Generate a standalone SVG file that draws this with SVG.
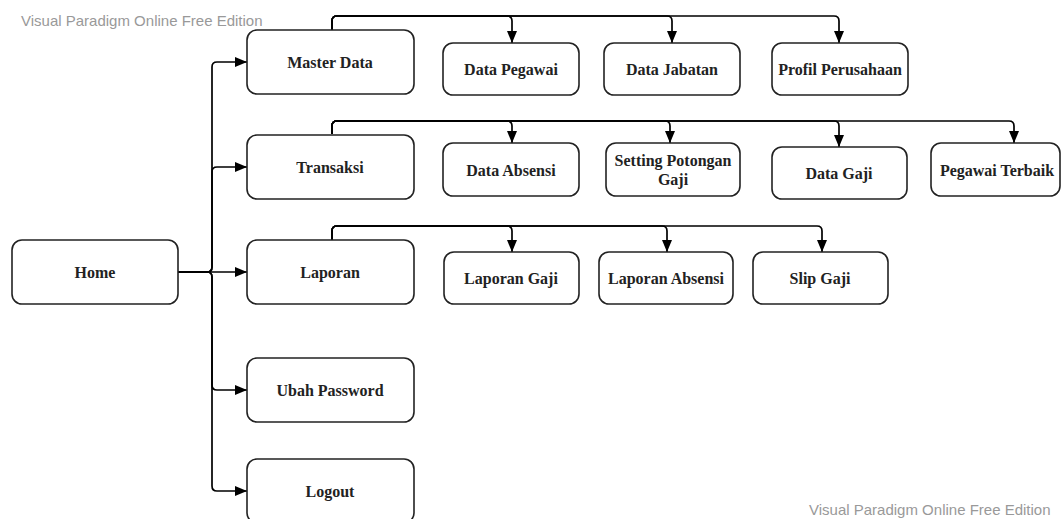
<svg xmlns="http://www.w3.org/2000/svg" width="1062" height="519" viewBox="0 0 1062 519">
<style>
.box{fill:#fff;stroke:#222;stroke-width:1.6}
.lbl{font-family:"Liberation Serif","Times New Roman",serif;font-weight:bold;font-size:16px;fill:#222;text-anchor:middle;dominant-baseline:central}
.wm{font-family:"Liberation Sans",Arial,sans-serif;font-size:15px;fill:#999}
.con{fill:none;stroke:#000;stroke-width:1.7}
</style>
<defs>
<marker id="arr" markerUnits="userSpaceOnUse" markerWidth="14" markerHeight="14" viewBox="0 0 14 14" refX="13" refY="7" orient="auto">
<path d="M1,2 L13,7 L1,12 Z" fill="#000"/>
</marker>
</defs>
<rect width="1062" height="519" fill="#fff"/>
<text class="wm" x="21" y="26">Visual Paradigm Online Free Edition</text>
<text class="wm" x="809" y="515">Visual Paradigm Online Free Edition</text>
<g id="connectors">
<path class="con" d="M178,272 H207 Q212,272 212,267 V67 Q212,62 217,62 H247" marker-end="url(#arr)"/>
<path class="con" d="M178,272 H207 Q212,272 212,267 V172 Q212,167 217,167 H247" marker-end="url(#arr)"/>
<path class="con" d="M178,272 H247" marker-end="url(#arr)"/>
<path class="con" d="M178,272 H207 Q212,272 212,277 V385 Q212,390 217,390 H247" marker-end="url(#arr)"/>
<path class="con" d="M178,272 H207 Q212,272 212,277 V486 Q212,491 217,491 H247" marker-end="url(#arr)"/>
<path class="con" d="M332,30 V21 Q332,16 337,16 H507 Q512,16 512,21 V43" marker-end="url(#arr)"/>
<path class="con" d="M332,30 V21 Q332,16 337,16 H667 Q672,16 672,21 V43" marker-end="url(#arr)"/>
<path class="con" d="M332,30 V21 Q332,16 337,16 H834 Q839,16 839,21 V43" marker-end="url(#arr)"/>
<path class="con" d="M332,134 V126 Q332,121 337,121 H507 Q512,121 512,126 V143" marker-end="url(#arr)"/>
<path class="con" d="M332,134 V126 Q332,121 337,121 H665 Q670,121 670,126 V143" marker-end="url(#arr)"/>
<path class="con" d="M332,134 V126 Q332,121 337,121 H834 Q839,121 839,126 V147" marker-end="url(#arr)"/>
<path class="con" d="M332,134 V126 Q332,121 337,121 H1009 Q1014,121 1014,126 V143" marker-end="url(#arr)"/>
<path class="con" d="M332,240 V231 Q332,226 337,226 H507 Q512,226 512,231 V252" marker-end="url(#arr)"/>
<path class="con" d="M332,240 V231 Q332,226 337,226 H662 Q667,226 667,231 V252" marker-end="url(#arr)"/>
<path class="con" d="M332,240 V231 Q332,226 337,226 H817 Q822,226 822,231 V252" marker-end="url(#arr)"/>
</g>
<g id="home"><rect class="box" x="12" y="240" width="166" height="64" rx="10"/><text class="lbl" x="95" y="272">Home</text></g>
<g id="master-data"><rect class="box" x="247" y="30" width="167" height="64" rx="10"/><text class="lbl" x="330" y="62">Master Data</text></g>
<g id="transaksi"><rect class="box" x="247" y="135" width="167" height="64" rx="10"/><text class="lbl" x="330" y="167">Transaksi</text></g>
<g id="laporan"><rect class="box" x="247" y="240" width="167" height="64" rx="10"/><text class="lbl" x="330" y="272">Laporan</text></g>
<g id="ubah-password"><rect class="box" x="247" y="358" width="167" height="64" rx="10"/><text class="lbl" x="330" y="390">Ubah Password</text></g>
<g id="logout"><rect class="box" x="247" y="459" width="167" height="64" rx="10"/><text class="lbl" x="330" y="491">Logout</text></g>
<g id="data-pegawai"><rect class="box" x="443" y="43" width="136" height="52" rx="10"/><text class="lbl" x="511" y="69">Data Pegawai</text></g>
<g id="data-jabatan"><rect class="box" x="604" y="43" width="136" height="52" rx="10"/><text class="lbl" x="672" y="69">Data Jabatan</text></g>
<g id="profil-perusahaan"><rect class="box" x="772" y="43" width="136" height="52" rx="10"/><text class="lbl" x="840" y="69">Profil Perusahaan</text></g>
<g id="data-absensi"><rect class="box" x="443" y="143" width="136" height="53" rx="10"/><text class="lbl" x="511" y="170">Data Absensi</text></g>
<g id="setting-potongan-gaji"><rect class="box" x="606" y="143" width="134" height="53" rx="10"/><text class="lbl" x="673" y="160">Setting Potongan</text><text class="lbl" x="673" y="179">Gaji</text></g>
<g id="data-gaji"><rect class="box" x="772" y="147" width="135" height="52" rx="10"/><text class="lbl" x="839" y="173">Data Gaji</text></g>
<g id="pegawai-terbaik"><rect class="box" x="931" y="143" width="129" height="53" rx="10"/><text class="lbl" x="997" y="170">Pegawai Terbaik</text></g>
<g id="laporan-gaji"><rect class="box" x="444" y="252" width="135" height="52" rx="10"/><text class="lbl" x="511" y="278">Laporan Gaji</text></g>
<g id="laporan-absensi"><rect class="box" x="599" y="252" width="134" height="52" rx="10"/><text class="lbl" x="666" y="278">Laporan Absensi</text></g>
<g id="slip-gaji"><rect class="box" x="753" y="252" width="135" height="52" rx="10"/><text class="lbl" x="820" y="278">Slip Gaji</text></g>
</svg>
